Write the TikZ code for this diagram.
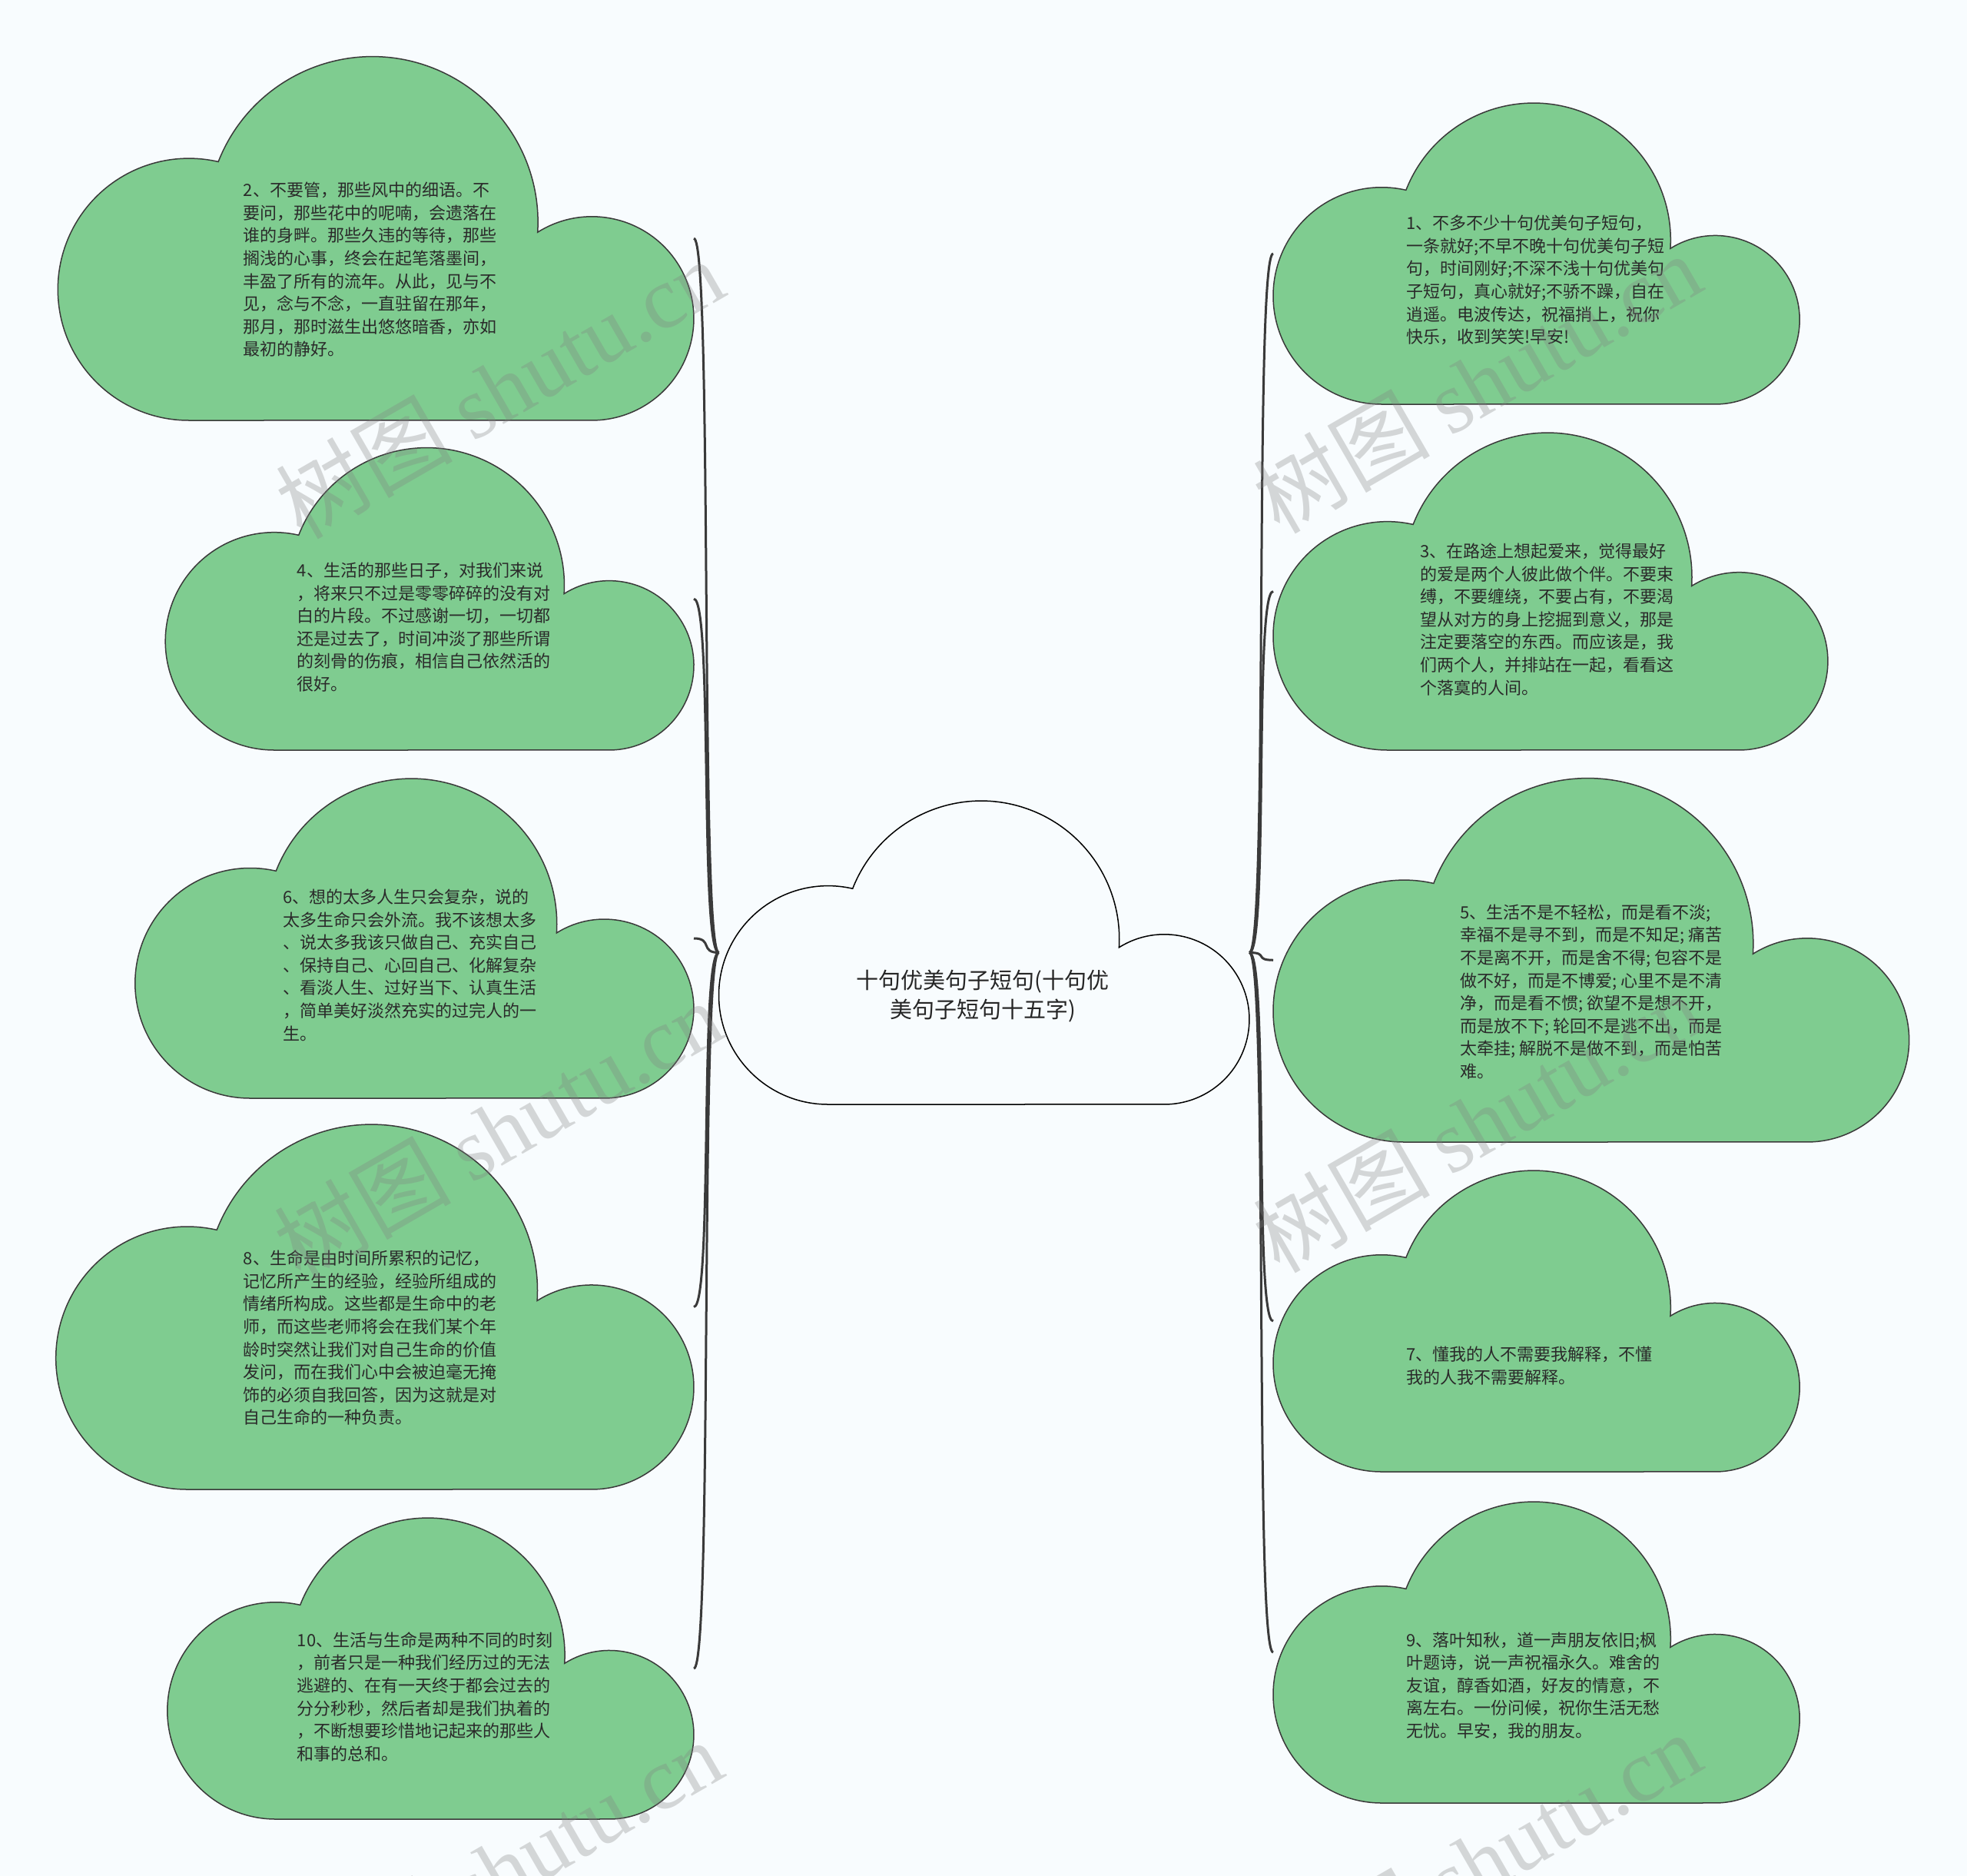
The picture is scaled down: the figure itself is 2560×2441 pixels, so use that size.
\documentclass[tikz,border=0pt]{standalone}
\usepackage{fontspec}
\setmainfont{Noto Sans CJK SC}
\newfontfamily\wmlatin{Liberation Serif}
\newfontfamily\wmcjk{Noto Sans CJK SC}
\definecolor{bg}{HTML}{F8FCFE}
\definecolor{cloudgreen}{HTML}{7FCC90}
\definecolor{edgecol}{HTML}{3A3A3A}
\definecolor{txtcol}{HTML}{2A2A2A}
\newcommand{\drawcloud}[4]{%
  \path[#4, shift={(#1,-#2)}, scale=#3]
    (0.36,0) arc[start angle=270,end angle=77,radius=0.36]
    arc[start angle=158.6,end angle=-3.5,radius=0.455]
    arc[start angle=122.2,end angle=-90,radius=0.28] -- cycle;}
\tikzset{
  greencloud/.style={fill=cloudgreen, draw=edgecol, line width=1.5pt},
  rootcloud/.style={fill=bg, draw=black, line width=1.5pt},
  conn/.style={draw=edgecol, line width=3pt},
  leaftext/.style={anchor=north west, inner sep=0pt, align=left, text=txtcol,
    font=\fontsize{22pt}{29.6pt}\selectfont},
  titletext/.style={anchor=north, inner sep=0pt, align=center, text=black!85,
    font=\fontsize{29pt}{38.3pt}\selectfont},
  wm/.style={text=gray, opacity=0.3, inner sep=0pt, rotate=30,
    font=\fontsize{115pt}{120pt}\selectfont}
}
\begin{document}
\begin{tikzpicture}[x=1pt,y=1pt]
\fill[bg] (0,0) rectangle (2560,-2441);
\useasboundingbox (0,0) rectangle (2560,-2441);

% clouds: x0, bottom y, height
\drawcloud{935.5}{1437}{395}{rootcloud}
\drawcloud{75.3}{547}{473.5}{greencloud}
\drawcloud{215.2}{976}{393.5}{greencloud}
\drawcloud{175.8}{1429}{416}{greencloud}
\drawcloud{72.7}{1938}{475}{greencloud}
\drawcloud{217.8}{2367}{392}{greencloud}
\drawcloud{1657}{526}{392}{greencloud}
\drawcloud{1657}{976}{413}{greencloud}
\drawcloud{1657}{1486}{473.5}{greencloud}
\drawcloud{1657}{1915}{392}{greencloud}
\drawcloud{1657}{2346}{392}{greencloud}

% anchor points
\coordinate (rootW) at (935.5,-1239.5);
\coordinate (rootE) at (1626,-1239.5);
\coordinate (L1) at (903,-310.25);
\coordinate (L2) at (903,-779.25);
\coordinate (L3) at (903,-1221);
\coordinate (L4) at (903,-1700.5);
\coordinate (L5) at (903,-2171);
\coordinate (R1) at (1657,-330);
\coordinate (R2) at (1657,-769.5);
\coordinate (R3) at (1657,-1249.25);
\coordinate (R4) at (1657,-1719);
\coordinate (R5) at (1657,-2150);

% connectors
\foreach \c in {L1,L2,L3,L4,L5}
  \draw[conn] (rootW) .. controls +(-25,0) and +(25,0) .. (\c);
\foreach \c in {R1,R2,R3,R4,R5}
  \draw[conn] (rootE) .. controls +(25,0) and +(-25,0) .. (\c);

% texts
\node[titletext] (title) at (1279,-1261.7) {十句优美句子短句(十句优\\美句子短句十五字)};

\node[leaftext] (t2) at (316.7,-237) {2、不要管，那些风中的细语。不\\要问，那些花中的呢喃，会遗落在\\谁的身畔。那些久违的等待，那些\\搁浅的心事，终会在起笔落墨间，\\丰盈了所有的流年。从此，见与不\\见，念与不念，一直驻留在那年，\\那月，那时滋生出悠悠暗香，亦如\\最初的静好。};
\node[leaftext] (t4) at (386.7,-731.7) {4、生活的那些日子，对我们来说\\，将来只不过是零零碎碎的没有对\\白的片段。不过感谢一切，一切都\\还是过去了，时间冲淡了那些所谓\\的刻骨的伤痕，相信自己依然活的\\很好。};
\node[leaftext] (t6) at (368.3,-1156.7) {6、想的太多人生只会复杂，说的\\太多生命只会外流。我不该想太多\\、说太多我该只做自己、充实自己\\、保持自己、心回自己、化解复杂\\、看淡人生、过好当下、认真生活\\，简单美好淡然充实的过完人的一\\生。};
\node[leaftext] (t8) at (316.7,-1626.7) {8、生命是由时间所累积的记忆，\\记忆所产生的经验，经验所组成的\\情绪所构成。这些都是生命中的老\\师，而这些老师将会在我们某个年\\龄时突然让我们对自己生命的价值\\发问，而在我们心中会被迫毫无掩\\饰的必须自我回答，因为这就是对\\自己生命的一种负责。};
\node[leaftext] (t10) at (386.7,-2123.3) {10、生活与生命是两种不同的时刻\\，前者只是一种我们经历过的无法\\逃避的、在有一天终于都会过去的\\分分秒秒，然后者却是我们执着的\\，不断想要珍惜地记起来的那些人\\和事的总和。};

\node[leaftext] (t1) at (1830,-280) {1、不多不少十句优美句子短句，\\一条就好;不早不晚十句优美句子短\\句，时间刚好;不深不浅十句优美句\\子短句，真心就好;不骄不躁，自在\\逍遥。电波传达，祝福捎上，祝你\\快乐，收到笑笑!早安!};
\node[leaftext] (t3) at (1848.3,-706.7) {3、在路途上想起爱来，觉得最好\\的爱是两个人彼此做个伴。不要束\\缚，不要缠绕，不要占有，不要渴\\望从对方的身上挖掘到意义，那是\\注定要落空的东西。而应该是，我\\们两个人，并排站在一起，看看这\\个落寞的人间。};
\node[leaftext] (t5) at (1900,-1176.7) {5、生活不是不轻松，而是看不淡;\\幸福不是寻不到，而是不知足; 痛苦\\不是离不开，而是舍不得; 包容不是\\做不好，而是不博爱; 心里不是不清\\净，而是看不惯; 欲望不是想不开，\\而是放不下; 轮回不是逃不出，而是\\太牵挂; 解脱不是做不到，而是怕苦\\难。};
\node[leaftext] (t7) at (1830,-1751.7) {7、懂我的人不需要我解释，不懂\\我的人我不需要解释。};
\node[leaftext] (t9) at (1830,-2123.3) {9、落叶知秋，道一声朋友依旧;枫\\叶题诗，说一声祝福永久。难舍的\\友谊，醇香如酒，好友的情意，不\\离左右。一份问候，祝你生活无愁\\无忧。早安，我的朋友。};

% watermarks
\node[wm] (wm1) at (650,-505) {{\wmcjk 树图} {\wmlatin shutu.cn}};
\node[wm] (wm2) at (648,-1470) {{\wmcjk 树图} {\wmlatin shutu.cn}};
\node[wm] (wm3) at (648,-2432) {{\wmcjk 树图} {\wmlatin shutu.cn}};
\node[wm] (wm4) at (1922,-498) {{\wmcjk 树图} {\wmlatin shutu.cn}};
\node[wm] (wm5) at (1922,-1460) {{\wmcjk 树图} {\wmlatin shutu.cn}};
\node[wm] (wm6) at (1922,-2422) {{\wmcjk 树图} {\wmlatin shutu.cn}};
\end{tikzpicture}
\end{document}
